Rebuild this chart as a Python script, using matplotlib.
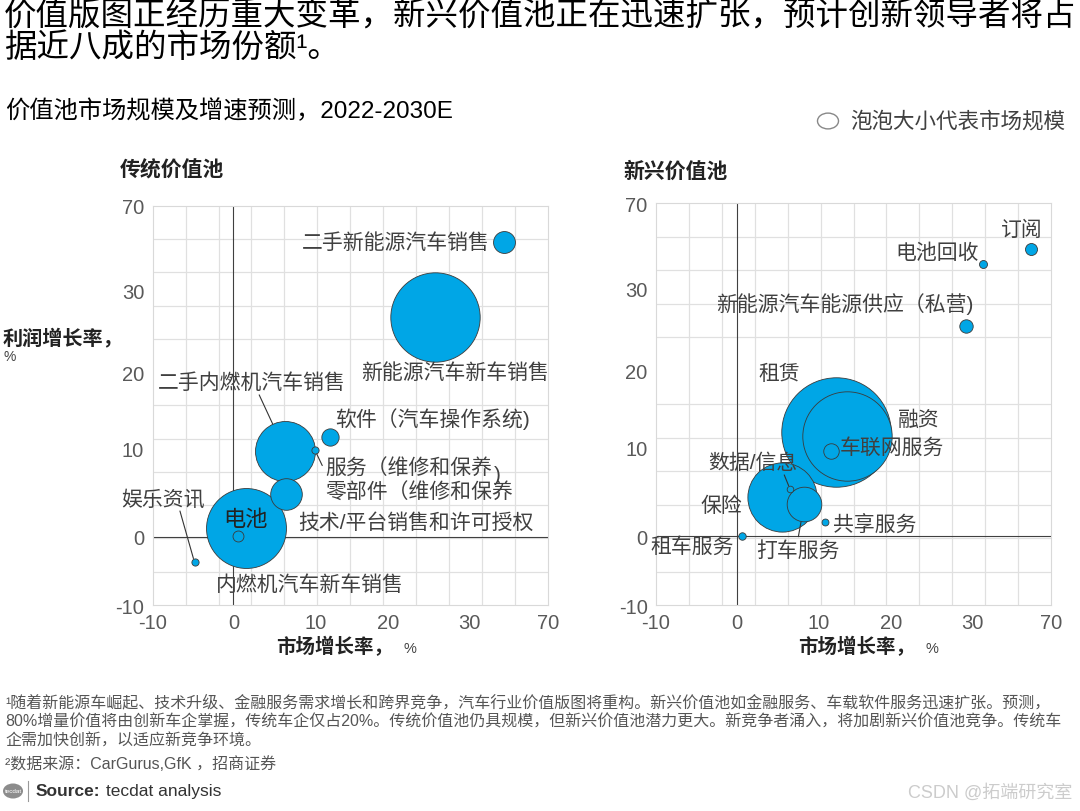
import numpy as np
import matplotlib
matplotlib.use('Agg')
import matplotlib.pyplot as plt

plt.rcParams['font.family'] = ['Liberation Sans', 'Noto Sans CJK SC', 'DejaVu Sans']

# ---- 数据 ----
# 传统价值池：名称、市场增长率(%)、利润增长率(%)、市场规模（相对值）
trad_names = ['技术/平台销售和许可授权', '新能源汽车新车销售', '内燃机汽车新车销售', '二手内燃机汽车销售',
              '零部件（维修和保养', '二手新能源汽车销售', '软件（汽车操作系统)', '电池',
              '服务（维修和保养', '娱乐资讯']
trad_x = [6.4, 25.8, 1.5, 6.3, 6.4, 47.5, 12.0, 0.6, 9.9, -4.8]
trad_y = [4.8, 26.7, 0.95, 9.7, 4.8, 53.0, 11.5, 0.1, 9.8, -3.75]
trad_size = [100, 2000, 1600, 900, 250, 120, 75, 30, 13, 13]

# 新兴价值池
new_names = ['租赁', '融资', '保险', '打车服务', '车联网服务', '新能源汽车能源供应（私营)',
             '订阅', '租车服务', '共享服务', '电池回收', '数据/信息']
new_x = [12.4, 13.9, 5.5, 8.2, 11.6, 29.3, 59.8, 0.6, 10.8, 35.5, 6.5]
new_y = [12.0, 11.5, 4.4, 3.6, 9.6, 25.5, 48.8, 0.08, 1.6, 41.5, 5.3]
new_size = [3000, 2000, 1200, 300, 60, 45, 36, 14, 12, 16, 11]

tick_vals = [-10, 0, 10, 20, 30, 70]

# 标签位置（像素偏移, 对齐, 引线）
trad_layout = {
    '技术/平台销售和许可授权': (12, -28, 'left', None),
    '新能源汽车新车销售': (-74, -55, 'left', None),
    '内燃机汽车新车销售': (-30, -56, 'left', None),
    '二手内燃机汽车销售': (-127, 69, 'left', ((0.53, 0), 30)),
    '零部件（维修和保养': (39, 4, 'left', None),
    '二手新能源汽车销售': (-14, 0, 'right', None),
    '软件（汽车操作系统)': (5, 19, 'left', None),
    '电池': (7, 16, 'center', None),
    '服务（维修和保养': (10, -17, 'left', ((0, 0.3), 4)),
    '娱乐资讯': (-73, 64, 'left', ((0.69, 0), 4)),
}
new_layout = {
    '租赁': (-57, 59, 'center', None),
    '融资': (51, 17, 'left', None),
    '保险': (-40, -8, 'right', None),
    '打车服务': (-48, -45, 'left', ((0.5, 1), 18)),
    '车联网服务': (9, 4, 'left', None),
    '新能源汽车能源供应（私营)': (7, 22, 'right', None),
    '订阅': (-9, 19, 'center', None),
    '租车服务': (-8, -10, 'right', None),
    '共享服务': (8, -3, 'left', None),
    '电池回收': (-4, 12, 'right', None),
    '数据/信息': (-82, 27, 'left', ((0.84, 0), 4)),
}

BLUE = '#00A6E6'
TXT = '#404040'
W, H = 1080, 812


def px(x, y):
    return x / W, 1 - y / H


def make_funcs(vals, pos):
    v = np.array(vals, float)
    p = np.array(pos, float)
    v2 = np.concatenate([[v[0] - 1000], v, [v[-1] + 1000]])
    p2 = np.concatenate([[p[0] - 1000 * (p[1] - p[0]) / (v[1] - v[0])], p,
                         [p[-1] + 1000 * (p[-1] - p[-2]) / (v[-1] - v[-2])]])
    return (lambda a: np.interp(a, v2, p2)), (lambda a: np.interp(a, p2, v2))


xf, xi = make_funcs(tick_vals, [0, 2.45, 4.95, 7.15, 9.6, 12])
yf, yi = make_funcs(tick_vals, [0, 2.05, 4.7, 7.0, 9.45, 12])


def draw_panel(ax, names, xs, ys, sizes, layout):
    ax.set_xscale('function', functions=(xf, xi))
    ax.set_yscale('function', functions=(yf, yi))
    ax.set_xlim(-10, 70)
    ax.set_ylim(-10, 70)
    ax.set_xticks(tick_vals)
    ax.set_yticks(tick_vals)
    ax.set_xticklabels([str(t) for t in tick_vals])
    ax.set_yticklabels([str(t) for t in tick_vals])
    ax.set_xticks(xi(np.arange(13)), minor=True)
    ax.set_yticks(yi(np.arange(13)), minor=True)
    ax.grid(which='minor', color='#e0e0e0', lw=0.9)
    ax.grid(which='major', visible=False)
    ax.tick_params(which='both', length=0)
    ax.tick_params(axis='both', labelsize=14.5, labelcolor='#595959', pad=6)
    for s in ax.spines.values():
        s.set_color('#d9d9d9')
    ax.axvline(0, color='#404040', lw=0.8, zorder=1)
    ax.axhline(0, color='#404040', lw=0.8, zorder=1)
    ax.set_axisbelow(True)

    for i, n in enumerate(names):
        ax.scatter(xs[i], ys[i], s=sizes[i] * 2.07, color=BLUE, edgecolor='#3a3a3a',
                   linewidth=0.6, zorder=2 + i * 0.01)
        dx, dy, ha, lead = layout[n]
        kw = {}
        if lead is not None:
            rel, shr = lead
            kw['arrowprops'] = dict(arrowstyle='-', color='#333333', lw=0.8,
                                    relpos=rel, shrinkA=0, shrinkB=shr * 0.72)
        fs = 16 if n == '电池' else 15
        col = '#222222' if n == '电池' else TXT
        ax.annotate(n, xy=(xs[i], ys[i]), xytext=(dx, dy), textcoords='offset pixels',
                    ha=ha, va='center', fontsize=fs, color=col, zorder=5, **kw)


fig = plt.figure(figsize=(10.8, 8.12), dpi=100)

ax1 = fig.add_axes([152.5 / W, 1 - 606 / H, 396 / W, 399.3 / H])
ax2 = fig.add_axes([656 / W, 1 - 606 / H, 395 / W, 401.7 / H])
draw_panel(ax1, trad_names, trad_x, trad_y, trad_size, trad_layout)
draw_panel(ax2, new_names, new_x, new_y, new_size, new_layout)

# "服务" 标签多出的右括号
i5 = trad_names.index('服务（维修和保养')
ax1.annotate(')', xy=(trad_x[i5], trad_y[i5]), xytext=(182, -24), textcoords='offset pixels',
             ha='center', va='center', fontsize=15, color=TXT)

# 标题
fig.text(*px(4, 17), '价值版图正经历重大变革，新兴价值池正在迅速扩张，预计创新领导者将占',
         fontsize=23.4, color='black', va='center', fontweight='medium')
fig.text(*px(4, 49), '据近八成的市场份额¹。', fontsize=23.4, color='black', va='center',
         fontweight='medium')
fig.text(*px(5, 111), '价值池市场规模及增速预测，2022-2030E', fontsize=17.5, color='black',
         va='center', fontweight='medium')

# 图例
fig.patches.append(plt.Circle(px(828, 122), 10.5 / W, transform=fig.transFigure,
                              fill=False, edgecolor='#888888', lw=1))
fig.text(*px(850, 122), '泡泡大小代表市场规模', fontsize=15.5, color=TXT, va='center')

# 子图标题与坐标轴名
fig.text(*px(120, 170), '传统价值池', fontsize=15, fontweight='bold', color='#222222', va='center')
fig.text(*px(623, 172), '新兴价值池', fontsize=15, fontweight='bold', color='#222222', va='center')
fig.text(*px(3, 338), '利润增长率，', fontsize=14.5, fontweight='bold', color='#222222', va='center')
fig.text(*px(4, 357), '%', fontsize=10, color='#444444', va='center')
for cx in [347, 869]:
    fig.text(*px(cx - 12, 647), '市场增长率，', fontsize=14, fontweight='bold', color='#222222',
             va='center', ha='center')
    fig.text(*px(cx + 56, 649), '%', fontsize=10.5, color='#444444', va='center', ha='left')

# 脚注
notes = ['¹随着新能源车崛起、技术升级、金融服务需求增长和跨界竞争，汽车行业价值版图将重构。新兴价值池如金融服务、车载软件服务迅速扩张。预测，',
         '80%增量价值将由创新车企掌握，传统车企仅占20%。传统价值池仍具规模，但新兴价值池潜力更大。新竞争者涌入，将加剧新兴价值池竞争。传统车',
         '企需加快创新，以适应新竞争环境。']
for k, line in enumerate(notes):
    fig.text(*px(5, 703 + k * 19), line, fontsize=11.5, color='#555555', va='center')
fig.text(*px(5, 764), '²数据来源：CarGurus,GfK ，招商证券', fontsize=11.5, color='#555555', va='center')

fig.patches.append(plt.Circle(px(13, 792), 10 / W, transform=fig.transFigure,
                              color='#8c8c8c', lw=0))
fig.text(*px(13, 792), 'tecdat', fontsize=4.5, color='white', ha='center', va='center')
fig.add_artist(plt.Line2D([28 / W, 28 / W], [1 - 782 / H, 1 - 802 / H], color='#999999', lw=0.8))
src = fig.text(*px(36, 792), 'Source:', fontsize=12.5, fontweight='bold', color='#333333',
               va='center')
ax1.annotate('tecdat analysis', xy=(1, 0.5), xycoords=src, xytext=(4, 0),
             textcoords='offset points', va='center', ha='left', fontsize=12.5,
             color='#333333', annotation_clip=False)
fig.text(*px(1072, 793), 'CSDN @拓端研究室', fontsize=13, color='#cccccc', va='center', ha='right')

fig.savefig('out.png', dpi=100)
